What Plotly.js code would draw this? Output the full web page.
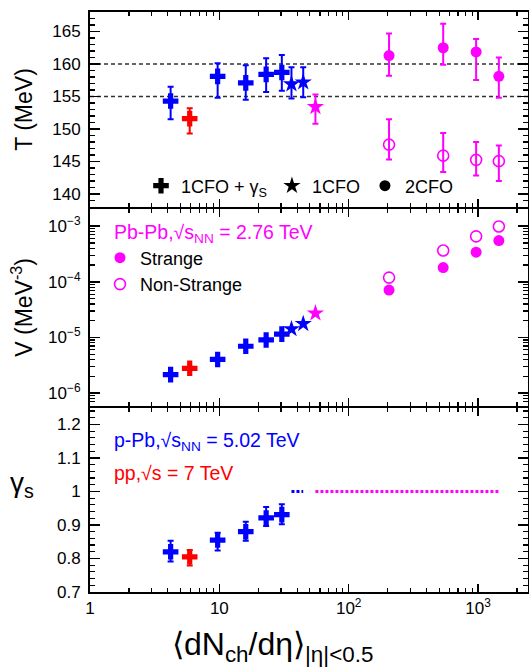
<!DOCTYPE html>
<html>
<head>
<meta charset="utf-8">
<script src="https://cdn.plot.ly/plotly-3.0.1.min.js"></script>
<style>
  html, body { margin: 0; padding: 0; background: #ffffff; }
  #chart { width: 529px; height: 669px; }
</style>
</head>
<body>
<div id="chart"></div>
<script>
// ---------------- data ----------------
// p-Pb 5.02 TeV, 1CFO + gamma_S (blue crosses)
const pPbX      = [4.2, 9.7, 16.0, 23.0, 30.4];
const pPbT      = [154.3, 158.1, 157.1, 158.4, 158.7];
const pPbTUp    = [2.2, 2.0, 2.7, 2.5, 2.7];
const pPbTDn    = [2.8, 3.3, 2.6, 2.7, 2.8];
const pPbV      = [2.15e-6, 4.03e-6, 6.95e-6, 9.03e-6, 1.15e-5];
const pPbG      = [0.820, 0.855, 0.880, 0.921, 0.931];
const pPbGUp    = [0.033, 0.022, 0.030, 0.033, 0.031];
const pPbGDn    = [0.029, 0.031, 0.027, 0.024, 0.029];

// pp 7 TeV, 1CFO + gamma_S (red cross)
const ppX       = [5.9];
const ppT       = [151.6];
const ppTUp     = [1.6];
const ppTDn     = [2.3];
const ppV       = [2.79e-6];
const ppG       = [0.805];
const ppGUp     = [0.020];
const ppGDn     = [0.026];

// p-Pb 5.02 TeV, 1CFO (blue stars), gamma_S fixed to 1
const pPbStarX  = [36.1, 44.5];
const pPbStarT  = [156.9, 157.2];
const pPbStarTUp= [2.6, 2.3];
const pPbStarTDn= [2.2, 2.3];
const pPbStarV  = [1.42e-5, 1.76e-5];
const pPbStarG  = [1, 1];

// Pb-Pb 2.76 TeV, 1CFO (magenta star)
const PbStarX   = [55.3];
const PbStarT   = [153.4];
const PbStarTUp = [1.9];
const PbStarTDn = [2.6];
const PbStarV   = [2.73e-5];

// Pb-Pb 2.76 TeV, 2CFO (magenta circles)
const PbX       = [205, 537.5, 966, 1447.5];
const PbStrT    = [161.3, 162.5, 161.85, 158.1];
const PbStrTUp  = [3.4, 3.7, 2.0, 2.9];
const PbStrTDn  = [3.1, 2.6, 4.3, 3.3];
const PbNonT    = [147.6, 145.9, 145.25, 145.05];
const PbNonTUp  = [3.9, 3.5, 2.75, 2.4];
const PbNonTDn  = [2.3, 2.5, 2.4, 3.05];
const PbStrV    = [7.1e-5, 1.80e-4, 3.40e-4, 5.50e-4];
const PbNonV    = [1.19e-4, 3.65e-4, 6.56e-4, 9.84e-4];

// gamma_S = 1 for the 1CFO / 2CFO Pb-Pb fits
const PbGX      = [PbStarX[0], PbX[PbX.length - 1]];
const PbG       = [1, 1];

// reference lines in T panel
const refT      = [155, 160];

// tick labels
const xTickVals = [1, 10, 100, 1000];
const xTickText = ['1', '10', '10<sup>2</sup>', '10<sup>3</sup>'];
const tTickVals = [140, 145, 150, 155, 160, 165];
const tTickText = ['140', '145', '150', '155', '160', '165'];
const vTickVals = [1e-6, 1e-5, 1e-4, 1e-3];
const vTickText = ['10<sup>\u22126</sup>', '10<sup>\u22125</sup>', '10<sup>\u22124</sup>', '10<sup>\u22123</sup>'];
const gTickVals = [0.7, 0.8, 0.9, 1.0, 1.1, 1.2];
const gTickText = ['0.7', '0.8', '0.9', '1', '1.1', '1.2'];

// ---------------- styling ----------------
const BLUE = '#0000ff', RED = '#ff0000', MAG = '#ff00ff';
const FONT = 'Liberation Sans, Arial, sans-serif';
const LW = 2; // frame line width

function logMinor(lo, hi) {
  const out = [];
  for (let e = lo; e <= hi; e++) {
    for (let k = 2; k <= 9; k++) out.push(k * Math.pow(10, e));
  }
  return out;
}
const xMinor = logMinor(0, 3);
const vMinor = logMinor(-7, -3);

function errBar(up, dn, color) {
  return { type: 'data', symmetric: false, array: up, arrayminus: dn,
           color: color, thickness: 2, width: 3 };
}

const crossM = (c) => ({ symbol: 'cross', size: 13, color: c, line: { width: 0 } });
const starM  = (c) => ({ symbol: 'star', size: 13, color: c, line: { width: 0 } });
const circM  = (c) => ({ symbol: 'circle', size: 11, color: c, line: { width: 0 } });
const ocircM = (c) => ({ symbol: 'circle-open', size: 11, color: c, line: { width: 1.6 } });

const traces = [];
const T = { xaxis: 'x3', yaxis: 'y3' };
const V = { xaxis: 'x2', yaxis: 'y2' };
const G = { xaxis: 'x',  yaxis: 'y'  };

function pts(ax, x, y, marker, err) {
  const t = Object.assign({ type: 'scatter', mode: 'markers', x: x, y: y,
                            marker: marker, showlegend: false, hoverinfo: 'x+y' }, ax);
  if (err) t.error_y = err;
  traces.push(t);
}

// --- T panel ---
pts(T, pPbX, pPbT, crossM(BLUE), errBar(pPbTUp, pPbTDn, BLUE));
pts(T, ppX, ppT, crossM(RED), errBar(ppTUp, ppTDn, RED));
pts(T, pPbStarX, pPbStarT, starM(BLUE), errBar(pPbStarTUp, pPbStarTDn, BLUE));
pts(T, PbStarX, PbStarT, starM(MAG), errBar(PbStarTUp, PbStarTDn, MAG));
pts(T, PbX, PbStrT, circM(MAG), errBar(PbStrTUp, PbStrTDn, MAG));
pts(T, PbX, PbNonT, ocircM(MAG), errBar(PbNonTUp, PbNonTDn, MAG));

// --- V panel ---
pts(V, pPbX, pPbV, crossM(BLUE));
pts(V, ppX, ppV, crossM(RED));
pts(V, pPbStarX, pPbStarV, starM(BLUE));
pts(V, PbStarX, PbStarV, starM(MAG));
pts(V, PbX, PbStrV, circM(MAG));
pts(V, PbX, PbNonV, ocircM(MAG));

// --- gamma panel ---
pts(G, pPbX, pPbG, crossM(BLUE), errBar(pPbGUp, pPbGDn, BLUE));
pts(G, ppX, ppG, crossM(RED), errBar(ppGUp, ppGDn, RED));
traces.push(Object.assign({ type: 'scatter', mode: 'lines', x: pPbStarX, y: pPbStarG,
  line: { color: BLUE, width: 3, dash: '3px,2px' }, showlegend: false, hoverinfo: 'skip' }, G));
traces.push(Object.assign({ type: 'scatter', mode: 'lines', x: PbGX, y: PbG,
  line: { color: MAG, width: 3, dash: '3px,2px' }, showlegend: false, hoverinfo: 'skip' }, G));

// --- legend entries (top panel) ---
const legTop = [
  { name: '1CFO + \u03b3<sub>S</sub>', m: crossM('#000000') },
  { name: '1CFO', m: starM('#000000') },
  { name: '2CFO', m: circM('#000000') }
];
legTop.forEach(function (e) {
  traces.push(Object.assign({ type: 'scatter', mode: 'markers', x: [null], y: [null],
    name: e.name, marker: e.m, showlegend: true, legend: 'legend' }, T));
});
// --- legend entries (V panel) ---
const legV = [
  { name: 'Strange', m: circM(MAG) },
  { name: 'Non-Strange', m: ocircM(MAG) }
];
legV.forEach(function (e) {
  traces.push(Object.assign({ type: 'scatter', mode: 'markers', x: [null], y: [null],
    name: e.name, marker: e.m, showlegend: true, legend: 'legend2' }, V));
});

// ---------------- layout ----------------
// plot area: 12 px .. 592 px (580 px tall). Panels are separated by a gap equal to
// the frame line width so that adjoining frame lines coincide.
const H = 580, TOP = 12;
const frac = (px) => (TOP + H - px) / H;
const domT = [frac(207), 1];
const domV = [frac(405.7), frac(207 + LW)];
const domG = [0, frac(405.7 + LW)];

const xRange = [0, 3.386];
function xAxis(anchor, labels) {
  return {
    type: 'log', range: xRange, anchor: anchor,
    tickmode: 'array', tickvals: xTickVals, ticktext: xTickText,
    showticklabels: labels, ticks: 'inside', ticklen: 8, tickwidth: 1.5, tickcolor: '#000',
    minor: { tickmode: 'array', tickvals: xMinor, ticks: 'inside', ticklen: 4, tickwidth: 1.2, tickcolor: '#000' },
    showline: true, linewidth: LW, linecolor: '#000', mirror: 'ticks',
    showgrid: false, zeroline: false,
    tickfont: { family: FONT, size: 17, color: '#000' }
  };
}
function yAxisBase() {
  return {
    ticks: 'inside', ticklen: 10, tickwidth: 1.5, tickcolor: '#000',
    showline: true, linewidth: LW, linecolor: '#000', mirror: 'ticks',
    showgrid: false, zeroline: false, ticklabelstandoff: 4,
    tickfont: { family: FONT, size: 17, color: '#000' }
  };
}

const yG = Object.assign(yAxisBase(), {
  domain: domG, range: [0.7, 1.25], anchor: 'x',
  tickmode: 'array', tickvals: gTickVals, ticktext: gTickText,
  minor: { dtick: 0.02, tick0: 0.7, ticks: 'inside', ticklen: 5, tickwidth: 1.2, tickcolor: '#000' }
});
const yV = Object.assign(yAxisBase(), {
  domain: domV, type: 'log', range: [-6.226, -2.692], anchor: 'x2',
  tickmode: 'array', tickvals: vTickVals, ticktext: vTickText,
  minor: { tickmode: 'array', tickvals: vMinor, ticks: 'inside', ticklen: 5, tickwidth: 1.2, tickcolor: '#000' },
  title: { text: 'V (MeV<sup>-3</sup>)', font: { family: FONT, size: 23, color: '#000' }, standoff: 9 }
});
const yT = Object.assign(yAxisBase(), {
  domain: domT, range: [138, 168], anchor: 'x3',
  tickmode: 'array', tickvals: tTickVals, ticktext: tTickText,
  minor: { dtick: 1, tick0: 138, ticks: 'inside', ticklen: 5, tickwidth: 1.2, tickcolor: '#000' },
  title: { text: 'T (MeV)', font: { family: FONT, size: 23, color: '#000' }, standoff: 13 }
});

const shapes = refT.map(function (v) {
  return { type: 'line', xref: 'x3 domain', yref: 'y3', x0: 0, x1: 1, y0: v, y1: v,
           line: { color: '#333333', width: 1.3, dash: '4px,3px' }, layer: 'below' };
});

const PX = (px) => (px - 90) / 438;
const annotations = [
  { text: 'Pb-Pb,\u221as<sub>NN</sub> = 2.76 TeV', xref: 'paper', yref: 'paper',
    x: PX(112), y: frac(233), xanchor: 'left', yanchor: 'middle', showarrow: false,
    font: { family: FONT, size: 19.5, color: MAG } },
  { text: 'p-Pb,\u221as<sub>NN</sub> = 5.02 TeV', xref: 'paper', yref: 'paper',
    x: PX(112), y: frac(441), xanchor: 'left', yanchor: 'middle', showarrow: false,
    font: { family: FONT, size: 19.5, color: BLUE } },
  { text: 'pp,\u221as = 7 TeV', xref: 'paper', yref: 'paper',
    x: PX(112), y: frac(473), xanchor: 'left', yanchor: 'middle', showarrow: false,
    font: { family: FONT, size: 19.5, color: RED } },
  { text: '\u03b3<sub>s</sub>', xref: 'paper', yref: 'paper',
    x: PX(22), y: frac(484), xanchor: 'center', yanchor: 'middle', showarrow: false,
    font: { family: FONT, size: 28, color: '#000' } },
  { text: '\u27e8dN<sub>ch</sub>/d\u03b7\u27e9<sub>|\u03b7|<0.5</sub>', xref: 'paper', yref: 'paper',
    x: PX(272), y: frac(646), xanchor: 'center', yanchor: 'middle', showarrow: false,
    font: { family: FONT, size: 32, color: '#000' } }
];

const layout = {
  width: 529, height: 669,
  margin: { l: 90, r: 1, t: TOP, b: 669 - TOP - H, pad: 0 },
  paper_bgcolor: '#ffffff', plot_bgcolor: '#ffffff',
  font: { family: FONT, color: '#000' },
  xaxis: xAxis('y', true),
  xaxis2: xAxis('y2', false),
  xaxis3: xAxis('y3', false),
  yaxis: yG, yaxis2: yV, yaxis3: yT,
  shapes: shapes,
  annotations: annotations,
  legend: {
    orientation: 'h', x: PX(141), y: frac(186), xanchor: 'left', yanchor: 'middle',
    xref: 'paper', yref: 'paper', bgcolor: 'rgba(0,0,0,0)', borderwidth: 0,
    font: { family: FONT, size: 18, color: '#000' }, itemwidth: 30
  },
  legend2: {
    orientation: 'v', x: PX(100), y: frac(271), xanchor: 'left', yanchor: 'middle',
    xref: 'paper', yref: 'paper', bgcolor: 'rgba(0,0,0,0)', borderwidth: 0,
    font: { family: FONT, size: 18, color: '#000' }, itemwidth: 30, tracegroupgap: 0
  },
  showlegend: true
};

Plotly.newPlot('chart', traces, layout, { displayModeBar: false, staticPlot: true });
</script>
</body>
</html>
